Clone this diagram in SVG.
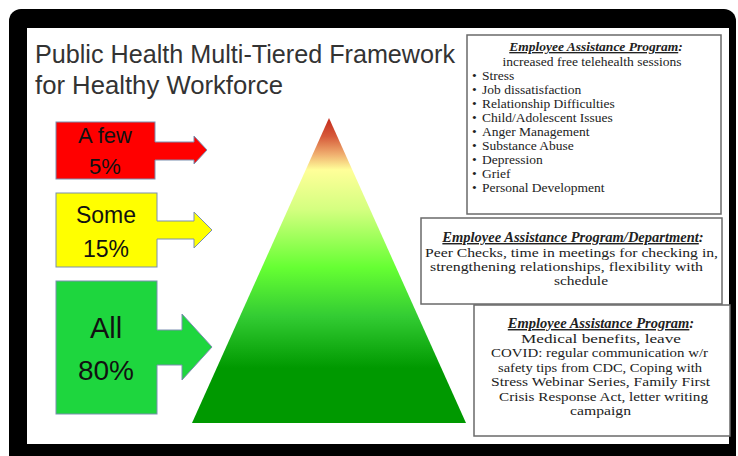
<svg xmlns="http://www.w3.org/2000/svg" width="738" height="456" viewBox="0 0 738 456">
<defs>
<linearGradient id="pyr" x1="0" y1="118" x2="0" y2="423" gradientUnits="userSpaceOnUse">
<stop offset="0" stop-color="#c42a1c"/>
<stop offset="0.06" stop-color="#d65a3a"/>
<stop offset="0.12" stop-color="#f0b070"/>
<stop offset="0.17" stop-color="#ffff99"/>
<stop offset="0.30" stop-color="#d4ff80"/>
<stop offset="0.49" stop-color="#66ff33"/>
<stop offset="0.65" stop-color="#33cc33"/>
<stop offset="0.82" stop-color="#009900"/>
<stop offset="1" stop-color="#009900"/>
</linearGradient>
<style>
.title{font-family:"Liberation Sans",Arial,sans-serif;font-size:25px;fill:#333}
.tier{font-family:"Liberation Sans",Arial,sans-serif;fill:#111;text-anchor:middle}
.tbox{fill:none;stroke:#7a8fb0;stroke-width:1}
.arw{stroke:#7a8fb0;stroke-width:1;fill:none}
.card{fill:#fff;stroke:#6a6a6a;stroke-width:1.5}
.txt{font-family:"Liberation Serif","Times New Roman",serif;fill:#222}
.hd{font-weight:bold;font-style:italic}
.c{text-anchor:middle}
.b{font-size:13.5px}
</style>
</defs>
<g id="frame">
<rect x="9" y="9" width="727" height="470" rx="12" fill="#000"/>
<rect x="27" y="28" width="702" height="416" fill="#fff"/>
</g>
<g id="title">
<text class="title" x="35" y="63" textLength="420" lengthAdjust="spacingAndGlyphs">Public Health Multi-Tiered Framework</text>
<text class="title" x="35" y="94" textLength="248" lengthAdjust="spacingAndGlyphs">for Healthy Workforce</text>
</g>
<g id="pyramid">
<polygon points="329,118 466,423 192,423" fill="url(#pyr)"/>
</g>
<g id="tier-few">
<rect x="56" y="122" width="99" height="57" class="tbox" style="fill:#ff0000"/>
<text class="tier" x="105" y="143" font-size="22">A few</text>
<text class="tier" x="105" y="174" font-size="22">5%</text>
</g>
<g id="tier-some">
<rect x="56" y="193" width="101" height="74" class="tbox" style="fill:#ffff00"/>
<text class="tier" x="106" y="223" font-size="23">Some</text>
<text class="tier" x="106" y="257" font-size="23">15%</text>
</g>
<g id="tier-all">
<rect x="56" y="281" width="101" height="133" class="tbox" style="fill:#1ed63e"/>
<text class="tier" x="106" y="338" font-size="29">All</text>
<text class="tier" x="106" y="380" font-size="28">80%</text>
</g>
<g id="connectors">
<polygon points="154,142 194,142 194,136 207,150 194,164 194,160 154,160" fill="#ff0000"/>
<path class="arw" d="M155,142 H194 V136 L207,150 L194,164 V160 H155"/>
<polygon points="156,221 194,221 194,212 212,230 194,248 194,239 156,239" fill="#ffff00"/>
<path class="arw" d="M157,221 H194 V212 L212,230 L194,248 V239 H157"/>
<polygon points="156,330 182,330 182,314 212,347 182,380 182,365 156,365" fill="#1ed63e"/>
<path class="arw" d="M157,330 H182 V314 L212,347 L182,380 V365 H157"/>
</g>
<g id="box-individual">
<rect class="card" x="467" y="35" width="254" height="179"/>
<text class="txt hd c b" x="596" y="51"><tspan text-decoration="underline">Employee Assistance Program</tspan>:</text>
<text class="txt c b" x="592" y="66">increased free telehealth sessions</text>
<g class="txt b">
<text x="472" y="80">•</text><text x="482" y="80">Stress</text>
<text x="472" y="94">•</text><text x="482" y="94">Job dissatisfaction</text>
<text x="472" y="108">•</text><text x="482" y="108">Relationship Difficulties</text>
<text x="472" y="122">•</text><text x="482" y="122">Child/Adolescent Issues</text>
<text x="472" y="136">•</text><text x="482" y="136">Anger Management</text>
<text x="472" y="150">•</text><text x="482" y="150">Substance Abuse</text>
<text x="472" y="164">•</text><text x="482" y="164">Depression</text>
<text x="472" y="178">•</text><text x="482" y="178">Grief</text>
<text x="472" y="192">•</text><text x="482" y="192">Personal Development</text>
</g>
</g>
<g id="box-department">
<rect class="card" x="421" y="218" width="301" height="86"/>
<text class="txt hd c" x="573" y="242" font-size="14.5"><tspan text-decoration="underline">Employee Assistance Program/Department</tspan>:</text>
<text class="txt b" x="425" y="257" textLength="293" lengthAdjust="spacingAndGlyphs">Peer Checks, time in meetings for checking in,</text>
<text class="txt b" x="430" y="271" textLength="273" lengthAdjust="spacingAndGlyphs">strengthening relationships, flexibility with</text>
<text class="txt b" x="554" y="285" textLength="54" lengthAdjust="spacingAndGlyphs">schedule</text>
</g>
<g id="box-organization">
<rect class="card" x="474" y="305" width="256" height="131"/>
<text class="txt hd c" x="601" y="328" font-size="14.5"><tspan text-decoration="underline">Employee Assistance Program</tspan>:</text>
<text class="txt b" x="521" y="343" textLength="160" lengthAdjust="spacingAndGlyphs">Medical benefits, leave</text>
<text class="txt b" x="491" y="357" textLength="217" lengthAdjust="spacingAndGlyphs">COVID: regular communication w/r</text>
<text class="txt b" x="498" y="372" textLength="204" lengthAdjust="spacingAndGlyphs">safety tips from CDC, Coping with</text>
<text class="txt b" x="491" y="386" textLength="219" lengthAdjust="spacingAndGlyphs">Stress Webinar Series, Family First</text>
<text class="txt b" x="499" y="401" textLength="209" lengthAdjust="spacingAndGlyphs">Crisis Response Act, letter writing</text>
<text class="txt b" x="570" y="415" textLength="61" lengthAdjust="spacingAndGlyphs">campaign</text>
</g>
</svg>
